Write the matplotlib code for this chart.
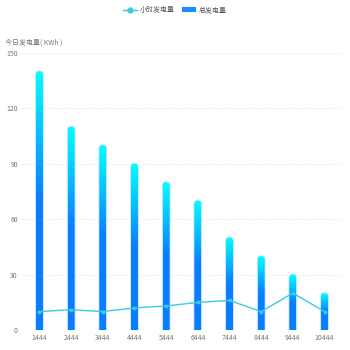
import matplotlib
matplotlib.use('Agg')
import matplotlib.pyplot as plt
import numpy as np
from matplotlib.patches import FancyBboxPatch, Patch
from matplotlib.lines import Line2D
from matplotlib.colors import LinearSegmentedColormap

plt.rcParams['font.family'] = ['Noto Sans CJK SC', 'DejaVu Sans']

hours = ['1444', '2444', '3444', '4444', '5444', '6444', '7444', '8444', '9444', '10444']
total_power = [140, 110, 100, 90, 80, 70, 50, 40, 30, 20]
hour_power = [10, 11, 10, 12, 13, 15, 16, 10, 20, 10]

fig = plt.figure(figsize=(3.5, 3.5), dpi=100)
ax = fig.add_axes([0.063, 0.057, 0.914, 0.792])

x = np.arange(len(hours))
ax.set_xlim(-0.55, len(hours) - 0.45)
ax.set_ylim(0, 150)

cmap = LinearSegmentedColormap.from_list('bar', ['#0a7dff', '#0a7dff', '#00ffff'])
grad = np.linspace(0, 1, 200).reshape(-1, 1)

bw = 0.22
for xi, v in zip(x, total_power):
    patch = FancyBboxPatch((xi - bw / 2, -5), bw, v + 5,
                           boxstyle='round,pad=0,rounding_size=0.11',
                           mutation_aspect=17,
                           facecolor='none', edgecolor='#bfe2ff', linewidth=1.2, zorder=2)
    ax.add_patch(patch)
    im = ax.imshow(grad, cmap=cmap, aspect='auto', origin='lower',
                   extent=(xi - bw / 2, xi + bw / 2, 0, v), zorder=3)
    im.set_clip_path(patch)

ax.set_xlim(-0.55, len(hours) - 0.45)
ax.set_ylim(0, 150)

ax.plot(x, hour_power, color='#3ccbe0', linewidth=1, marker='o', markersize=1.8, zorder=4)

ax.set_yticks([0, 30, 60, 90, 120, 150])
ax.set_xticks(x)
ax.set_xticklabels(hours)
ax.tick_params(axis='both', length=0, labelsize=5, colors='#777777', pad=3)
ax.yaxis.grid(True, linestyle=(0, (2, 2)), color='#e6e6e6', linewidth=0.6)
ax.set_axisbelow(True)
for s in ax.spines.values():
    s.set_visible(False)

fig.text(0.015, 0.872, '今日发电量( KWh )', fontsize=5, color='#777777')

handles = [Line2D([0], [0], color='#3ccbe0', linewidth=1, marker='o', markersize=3.5),
           Patch(facecolor='#1a8cff')]
fig.legend(handles, ['小时发电量', '总发电量'], loc='upper center', bbox_to_anchor=(0.5, 1.0),
           ncol=2, frameon=False, fontsize=5, handlelength=2, handleheight=0.8,
           columnspacing=1, handletextpad=0.4, labelcolor='#555555')

fig.savefig('out.png', dpi=100)
